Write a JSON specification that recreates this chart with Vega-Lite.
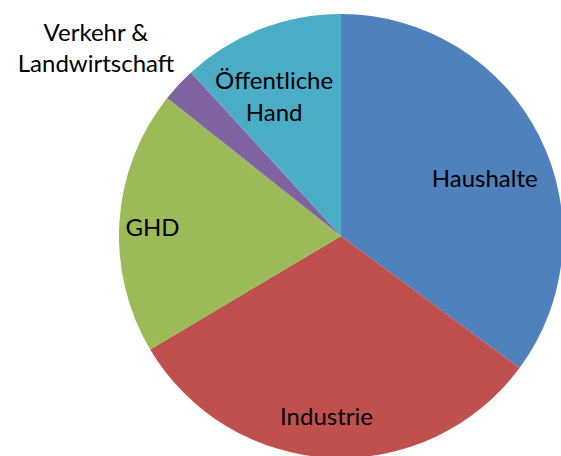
{
  "$schema": "https://vega.github.io/schema/vega-lite/v6.json",
  "width": 440,
  "height": 440,
  "autosize": "none",
  "padding": {"left": 121, "top": 16, "right": 0, "bottom": 0},
  "background": "white",
  "view": {"stroke": null},
  "data": {
    "values": [
      {"idx": 1, "cat": "Haushalte", "label": "Haushalte", "value": 35.1},
      {"idx": 2, "cat": "Industrie", "label": "Industrie", "value": 31.3},
      {"idx": 3, "cat": "GHD", "label": "GHD", "value": 19.2},
      {"idx": 4, "cat": "Verkehr & Landwirtschaft", "label": "Verkehr &\nLandwirtschaft", "value": 2.5},
      {"idx": 5, "cat": "Öffentliche Hand", "label": "Öffentliche\nHand", "value": 11.8}
    ]
  },
  "encoding": {
    "theta": {"field": "value", "type": "quantitative", "stack": true},
    "order": {"field": "idx", "type": "quantitative"}
  },
  "layer": [
    {
      "mark": {"type": "arc", "outerRadius": 222},
      "encoding": {
        "color": {
          "field": "cat",
          "type": "nominal",
          "scale": {
            "domain": ["Haushalte", "Industrie", "GHD", "Verkehr & Landwirtschaft", "Öffentliche Hand"],
            "range": ["#4F81BD", "#C0504D", "#9BBB59", "#8064A2", "#4BACC6"]
          },
          "legend": null
        }
      }
    },
    {
      "mark": {"type": "text", "radius": 152, "dx": 8, "dy": 19.5, "font": "Lato", "fontSize": 24, "color": "#000", "baseline": "alphabetic", "align": "center"},
      "encoding": {"text": {"condition": {"test": "datum.cat === 'Haushalte'", "field": "label"}, "value": ""}}
    },
    {
      "mark": {"type": "text", "radius": 189, "dx": -5, "dy": 0, "font": "Lato", "fontSize": 24, "color": "#000", "baseline": "alphabetic", "align": "center"},
      "encoding": {"text": {"condition": {"test": "datum.cat === 'Industrie'", "field": "label"}, "value": ""}}
    },
    {
      "mark": {"type": "text", "radius": 189, "dx": 0, "dy": 13, "font": "Lato", "fontSize": 24, "color": "#000", "baseline": "alphabetic", "align": "center"},
      "encoding": {"text": {"condition": {"test": "datum.cat === 'GHD'", "field": "label"}, "value": ""}}
    },
    {
      "mark": {"type": "text", "radius": 150, "dx": -12.5, "dy": -7, "font": "Lato", "fontSize": 24, "color": "#000", "baseline": "alphabetic", "align": "center", "lineBreak": "\n", "lineHeight": 32},
      "encoding": {"text": {"condition": {"test": "datum.cat === 'Öffentliche Hand'", "field": "label"}, "value": ""}}
    },
    {
      "mark": {"type": "text", "radius": 300, "dx": -25.5, "dy": 9.5, "font": "Lato", "fontSize": 24, "color": "#000", "baseline": "alphabetic", "align": "center", "lineBreak": "\n", "lineHeight": 31},
      "encoding": {"text": {"condition": {"test": "datum.cat === 'Verkehr & Landwirtschaft'", "field": "label"}, "value": ""}}
    }
  ]
}
